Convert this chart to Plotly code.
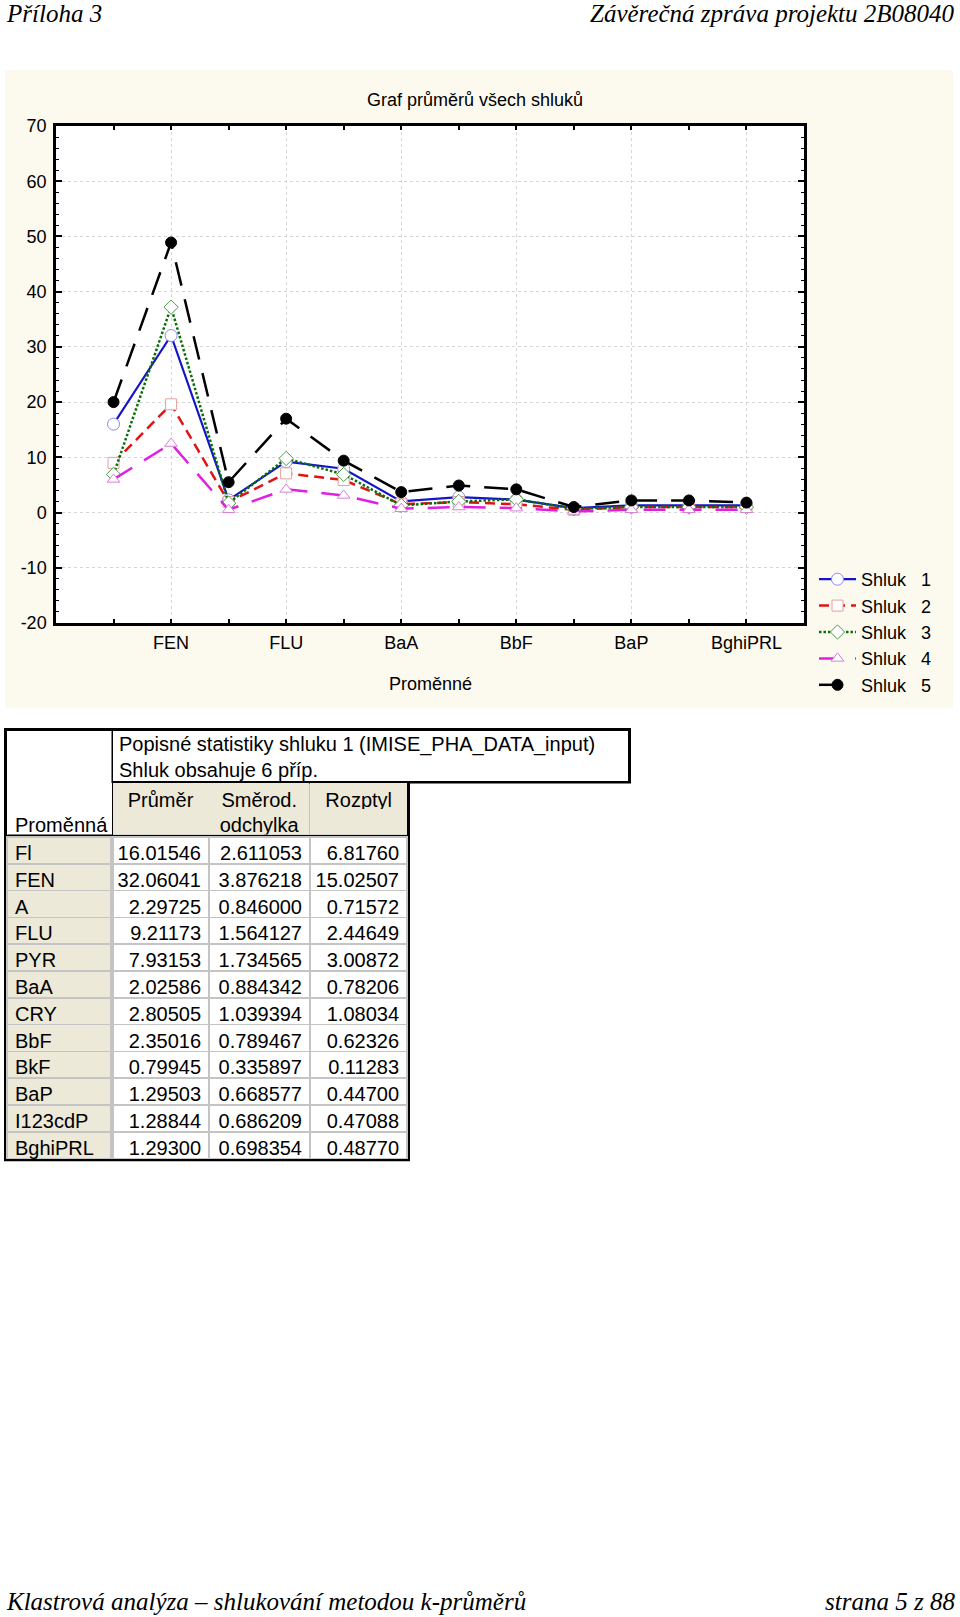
import plotly.graph_objects as go

W, H = 960, 1617


def X(px):
    return px / W


def Y(py):
    return 1 - py / H


# ---------------- data ----------------
variables = ["Fl", "FEN", "A", "FLU", "PYR", "BaA", "CRY", "BbF", "BkF", "BaP", "I123cdP", "BghiPRL"]

shluk1 = [16.01546, 32.06041, 2.29725, 9.21173, 7.93153, 2.02586, 2.80505, 2.35016, 0.79945, 1.29503, 1.28844, 1.29300]
shluk2 = [9.0, 19.6, 1.9, 7.1, 5.9, 1.5, 1.9, 1.5, 0.5, 1.0, 1.0, 1.0]
shluk3 = [6.9, 37.2, 1.7, 9.8, 6.9, 1.3, 2.0, 2.4, 0.7, 1.0, 1.0, 1.0]
shluk4 = [6.0, 12.5, 0.5, 4.2, 3.1, 0.7, 1.0, 0.8, 0.2, 0.5, 0.5, 0.5]
shluk5 = [20.0, 48.9, 5.5, 17.0, 9.4, 3.7, 4.9, 4.2, 1.0, 2.2, 2.2, 1.8]

cluster_names = ["Shluk\u00a0\u00a0\u00a01", "Shluk\u00a0\u00a0\u00a02", "Shluk\u00a0\u00a0\u00a03",
                 "Shluk\u00a0\u00a0\u00a04", "Shluk\u00a0\u00a0\u00a05"]

# descriptive statistics of cluster 1
prumer = shluk1
smerod = [2.611053, 3.876218, 0.846000, 1.564127, 1.734565, 0.884342, 1.039394, 0.789467, 0.335897, 0.668577, 0.686209, 0.698354]
rozptyl = [6.81760, 15.02507, 0.71572, 2.44649, 3.00872, 0.78206, 1.08034, 0.62326, 0.11283, 0.44700, 0.47088, 0.48770]
# two header lines per column
table_headers = [["\u00a0", "Proměnná"], ["Průměr", "\u00a0"], ["Směrod.", "odchylka"], ["Rozptyl", "\u00a0"]]
table_title = "Popisné statistiky shluku 1 (IMISE_PHA_DATA_input)<br>Shluk obsahuje 6 příp."

chart_title = "Graf průměrů všech shluků"
x_title = "Proměnné"
y_ticks = [-20, -10, 0, 10, 20, 30, 40, 50, 60, 70]
y_minor = list(range(-20, 71, 2))

# ---------------- styles ----------------
series = [shluk1, shluk2, shluk3, shluk4, shluk5]
line_styles = [
    dict(color="#1414C8", width=2.2, dash="solid"),
    dict(color="#E01414", width=2.5, dash="10px,6px"),
    dict(color="#0A6E0A", width=2.5, dash="2.5px,2px"),
    dict(color="#E020E0", width=2.5, dash="22px,14px"),
    dict(color="#000000", width=2.5, dash="24px,14px"),
]
marker_styles = [
    dict(symbol="circle", size=12, color="white", line=dict(color="#8C8CE6", width=1)),
    dict(symbol="square", size=11, color="white", line=dict(color="#E6A0A0", width=1)),
    dict(symbol="diamond", size=11, color="white", line=dict(color="#4E9A4E", width=1)),
    dict(symbol="triangle-up", size=11, color="white", line=dict(color="#D880D8", width=1)),
    dict(symbol="circle", size=11, color="black", line=dict(color="black", width=1)),
]

SANS = "Liberation Sans"
SERIF = "Liberation Serif"
beige = "#ECE9D8"
gray = "#C4C4C4"
tfont = dict(family=SANS, size=20, color="black")

fig = go.Figure()

idx = list(range(len(variables)))
for name, vals, ls, ms in zip(cluster_names, series, line_styles, marker_styles):
    fig.add_trace(go.Scatter(x=idx, y=vals, mode="lines+markers", name=name,
                             line=ls, marker=ms, cliponaxis=False))

# ---------------- table ----------------
row_h = 26.8
head_top, head_row_h = 783.5, 25.75
head_bot = head_top + 2 * head_row_h
body_top = head_bot + 2
body_bot = body_top + row_h * len(variables)
col_edges = [7, 111.5, 209, 310, 407]   # column boundaries (px)

# header: one small table per column (lines between columns show the frame behind)
for i, hv in enumerate(table_headers):
    x0 = col_edges[i] + (1.5 if i == 1 else (0.7 if i > 1 else 0))
    x1 = col_edges[i + 1] - (0.7 if 0 < i < 3 else 0)
    fc = "white" if i == 0 else beige
    fig.add_trace(go.Table(
        domain=dict(x=[X(x0), X(x1)], y=[Y(head_bot), Y(head_top)]),
        header=dict(values=[hv], height=head_row_h,
                    fill=dict(color=fc), line=dict(color=fc, width=1),
                    align="left" if i == 0 else "center", font=tfont),
        cells=dict(values=[[]]),
    ))

# row labels
fig.add_trace(go.Table(
    domain=dict(x=[X(col_edges[0]), X(col_edges[1])], y=[Y(body_bot + 3), Y(body_top)]),
    header=dict(values=[variables], height=row_h,
                fill=dict(color=beige), line=dict(color=gray, width=1.5),
                align="left", font=tfont),
    cells=dict(values=[[]]),
))

num_cols = [[f"{v:.5f}" for v in prumer],
            [f"{v:.6f}" for v in smerod],
            [f"{v:.5f}" for v in rozptyl]]
fig.add_trace(go.Table(
    domain=dict(x=[X(113), X(col_edges[4])], y=[Y(body_bot + 3), Y(body_top)]),
    columnwidth=[col_edges[2] - 113, col_edges[3] - col_edges[2], col_edges[4] - col_edges[3]],
    header=dict(values=num_cols, height=row_h,
                fill=dict(color="white"), line=dict(color=gray, width=1.5),
                align="right", font=tfont),
    cells=dict(values=[[], [], []]),
))

shapes = [
    # cream chart background
    dict(type="rect", xref="paper", yref="paper", x0=X(5), x1=X(953), y0=Y(708), y1=Y(70),
         fillcolor="#FCF9EF", line=dict(width=0), layer="below"),
    # white plot area
    dict(type="rect", xref="x domain", yref="y domain", x0=0, x1=1, y0=0, y1=1,
         fillcolor="white", line=dict(width=0), layer="below"),
    # table frame (black) and white cells of the title rows
    dict(type="rect", xref="paper", yref="paper", x0=X(4), x1=X(631), y0=Y(head_top), y1=Y(728),
         fillcolor="black", line=dict(width=0), layer="below"),
    dict(type="rect", xref="paper", yref="paper", x0=X(4), x1=X(410), y0=Y(body_bot + 2.6), y1=Y(728),
         fillcolor="black", line=dict(width=0), layer="below"),
    dict(type="rect", xref="paper", yref="paper", x0=X(113), x1=X(407), y0=Y(head_bot), y1=Y(head_top),
         fillcolor=gray, line=dict(width=0), layer="below"),
    dict(type="rect", xref="paper", yref="paper", x0=X(7), x1=X(111.5), y0=Y(head_top + 1), y1=Y(731),
         fillcolor="white", line=dict(width=0), layer="below"),
    dict(type="rect", xref="paper", yref="paper", x0=X(113), x1=X(628), y0=Y(781), y1=Y(731),
         fillcolor="white", line=dict(width=0), layer="below"),
]

serif_font = dict(family=SERIF, size=25, style="italic", color="black")
annotations = [
    dict(text="Příloha 3", x=X(4), y=Y(13), xanchor="left", font=serif_font),
    dict(text="Závěrečná zpráva projektu 2B08040", x=X(957), y=Y(13), xanchor="right", font=serif_font),
    dict(text="Klastrová analýza – shlukování metodou k-průměrů", x=X(4), y=Y(1601), xanchor="left",
         font=serif_font),
    dict(text="strana 5 z 88", x=X(957), y=Y(1601), xanchor="right", font=serif_font),
    dict(text=chart_title, x=X(475), y=Y(100), xanchor="center", font=dict(family=SANS, size=18, color="black")),
    dict(text=x_title, x=X(430), y=Y(684), xanchor="center", font=dict(family=SANS, size=18, color="black")),
    dict(text=table_title, x=X(117), y=Y(757), xanchor="left", align="left", font=tfont),
]
for a in annotations:
    a.update(xref="paper", yref="paper", yanchor="middle", showarrow=False)

fig.update_layout(
    width=W, height=H, autosize=False,
    margin=dict(l=0, r=0, t=0, b=0, pad=0, autoexpand=False),
    paper_bgcolor="white", plot_bgcolor="white",
    font=dict(family=SANS, size=18, color="black"),
    shapes=shapes, annotations=annotations,
    showlegend=True,
    legend=dict(x=X(814), y=Y(632), xanchor="left", yanchor="middle", itemwidth=37,
                bgcolor="rgba(0,0,0,0)", font=dict(family=SANS, size=18, color="black"),
                tracegroupgap=0),
    xaxis=dict(domain=[X(56), X(804)], range=[-1, len(variables)],
               tickmode="array", tickvals=idx[1::2], ticktext=variables[1::2],
               ticks="inside", ticklen=4, tickwidth=1.5, tickcolor="black",
               minor=dict(tickmode="array", tickvals=idx, ticks="inside", ticklen=4,
                          tickwidth=1.5, tickcolor="black", showgrid=False),
               showline=True, linecolor="black", linewidth=2.5, mirror="ticks",
               showgrid=True, gridcolor="#D6D6D6", griddash="dot", gridwidth=1,
               zeroline=False, ticklabelstandoff=2, automargin=False,
               tickfont=dict(family=SANS, size=18, color="black")),
    yaxis=dict(domain=[Y(623), Y(126)], range=[y_ticks[0], y_ticks[-1]],
               tickmode="array", tickvals=y_ticks, ticktext=[str(v) for v in y_ticks],
               ticks="inside", ticklen=6, tickwidth=1.5, tickcolor="black",
               minor=dict(tickmode="array", tickvals=y_minor, ticks="inside", ticklen=3,
                          tickwidth=1.2, tickcolor="black", showgrid=False),
               showline=True, linecolor="black", linewidth=2.5, mirror="ticks",
               showgrid=True, gridcolor="#D6D6D6", griddash="dot", gridwidth=1,
               zeroline=False, ticklabelstandoff=3, automargin=False,
               tickfont=dict(family=SANS, size=18, color="black")),
)

fig.write_html("out.html", config={"displayModeBar": False},
               post_script="document.body.style.margin='0px';")
